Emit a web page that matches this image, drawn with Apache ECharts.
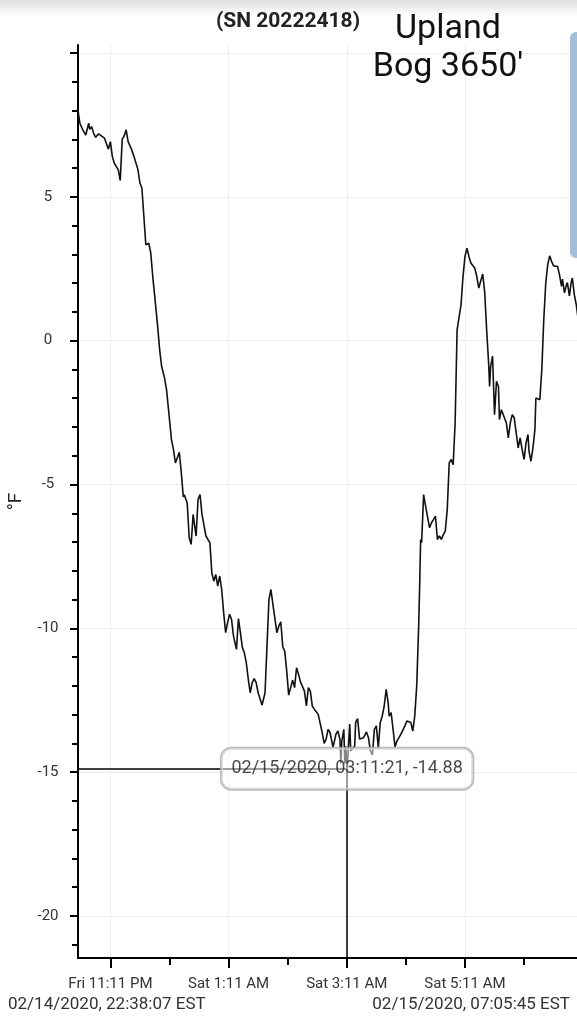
<!DOCTYPE html>
<html><head><meta charset="utf-8">
<script src="https://cdn.jsdelivr.net/npm/echarts@6/dist/echarts.min.js"></script>
<style>html,body{margin:0;padding:0;background:#fff}#c{width:577px;height:1024px}</style>
</head><body><div id="c"></div>
<script>
// ---- data (clock time, °F) ----
const times = [
 '22:38:07','22:40','22:43','22:46','22:49','22:50','22:52','22:54','22:56','22:59',
 '23:01','23:05','23:09','23:11','23:13','23:15','23:17','23:19','23:21','23:23',
 '23:25','23:27','23:29','23:32','23:35','23:39','23:41','23:43','23:45','23:47',
 '23:49','23:50','23:52','23:54','23:56','23:59','00:01','00:03','00:06','00:08',
 '00:11','00:13','00:15','00:17','00:19','00:21','00:23','00:25','00:26','00:29',
 '00:31','00:33','00:35','00:36','00:38','00:40','00:42','00:44','00:46','00:48',
 '00:50','00:52','00:54','00:56','00:58','01:00','01:02','01:04','01:06','01:08',
 '01:10','01:12','01:14','01:16','01:19','01:21','01:23','01:25','01:27','01:29',
 '01:31','01:33','01:35','01:37','01:39','01:41','01:43','01:45','01:47','01:48',
 '01:50','01:52','01:54','01:56','01:58','02:00','02:02','02:04','02:06','02:08',
 '02:10','02:12','02:14','02:16','02:18','02:20','02:22','02:24','02:26','02:28',
 '02:30','02:32','02:34','02:36','02:38','02:40','02:42','02:44','02:46','02:48',
 '02:50','02:52','02:54','02:56','02:57','03:00','03:02','03:04','03:05','03:06',
 '03:08','03:09','03:10','03:11:21','03:14','03:15','03:17','03:19','03:20','03:22',
 '03:24','03:26','03:28','03:31','03:33','03:35','03:37','03:39','03:41','03:43',
 '03:45','03:47','03:49','03:51','03:53','03:54','03:56','03:58','04:00','04:02',
 '04:04','04:06','04:08','04:10','04:12','04:14','04:16','04:18','04:20','04:22',
 '04:24','04:25','04:26','04:27','04:29','04:31','04:33','04:35','04:37','04:39',
 '04:41','04:43','04:45','04:47','04:49','04:51','04:53','04:55','04:57','04:59',
 '05:01','05:03','05:05','05:07','05:09','05:11','05:13','05:15','05:17','05:19',
 '05:21','05:23','05:25','05:27','05:29','05:31','05:33','05:35','05:36','05:37',
 '05:39','05:41','05:43','05:45','05:46','05:48','05:50','05:53','05:55','05:57',
 '05:59','06:01','06:03','06:05','06:07','06:09','06:11','06:13','06:15','06:16',
 '06:18','06:20','06:22','06:23','06:25','06:27','06:29','06:31','06:33','06:35',
 '06:37','06:39','06:41','06:43','06:45','06:47','06:49','06:50','06:52','06:54',
 '06:55','06:57','06:59','07:00','07:02','07:04','07:05:45'
];
const temps = [
 8.02,7.56,7.33,7.15,7.56,7.35,7.44,7.21,7.07,7.19,
 7.16,7.04,6.66,6.92,6.40,6.17,6.17,5.94,5.57,7.00,
 7.12,7.33,6.92,6.69,6.40,5.94,5.48,5.30,4.32,3.33,
 3.27,3.39,3.05,2.23,1.55,0.50,-0.31,-0.89,-1.30,-1.70,
 -2.74,-3.44,-3.78,-4.25,-4.27,-3.88,-4.59,-5.43,-5.36,-5.64,
 -6.85,-7.08,-6.04,-6.10,-6.79,-5.52,-5.35,-6.04,-6.04,-6.79,
 -6.91,-7.02,-8.07,-8.36,-8.13,-8.53,-8.18,-8.65,-9.46,-10.15,
 -9.80,-9.51,-9.69,-10.27,-10.73,-9.66,-10.15,-10.67,-10.85,-11.20,
 -11.77,-12.24,-11.89,-11.75,-11.89,-12.24,-12.24,-12.67,-12.64,-12.24,
 -10.61,-8.99,-8.65,-9.17,-9.11,-10.15,-9.92,-9.77,-10.64,-10.79,
 -11.48,-12.32,-12.38,-11.80,-12.06,-11.37,-11.60,-11.86,-11.89,-12.18,
 -12.70,-12.06,-12.18,-12.70,-12.81,-12.87,-12.99,-13.05,-13.62,-14.00,
 -13.85,-13.51,-13.62,-13.68,-14.14,-13.68,-13.57,-13.85,-14.70,-13.91,
 -13.51,-14.70,-14.10,-14.88,-13.33,-14.26,-14.32,-14.10,-13.27,-13.14,
 -13.85,-13.85,-13.80,-13.60,-13.80,-14.26,-14.40,-13.51,-13.39,-14.14,
 -13.27,-13.05,-12.70,-12.12,-12.58,-13.05,-12.93,-13.51,-14.12,-13.91,
 -13.85,-13.68,-13.62,-13.39,-13.22,-13.16,-13.27,-13.57,-13.05,-12.00,
 -9.92,-8.50,-6.91,-7.02,-5.35,-5.75,-5.75,-6.50,-6.33,-6.22,
 -6.10,-6.91,-6.79,-6.91,-6.74,-6.62,-5.87,-4.25,-4.13,-4.31,
 -2.86,0.38,0.44,1.25,2.23,2.93,3.22,2.93,2.70,2.72,
 2.52,2.23,1.83,1.83,2.32,1.70,0.38,-0.78,-1.59,-0.90,
 -0.54,-2.57,-1.41,-1.59,-2.74,-2.40,-2.34,-2.86,-3.38,-2.86,
 -2.57,-2.68,-2.63,-3.73,-3.38,-3.78,-4.13,-3.55,-3.26,-3.84,
 -4.19,-3.73,-3.09,-1.99,-1.99,-2.05,-1.01,0.73,2.00,2.64,
 2.95,2.75,2.60,2.66,2.58,2.29,1.89,2.14,1.66,1.94,
 2.02,1.56,2.06,2.18,1.60,1.25,0.79
];
const xMinTime = '2020-02-14T22:38:07';
const xMaxTime = '2020-02-15T07:05:45';
const yMin = -21.46, yMax = 10.28;
const yLabelValues = [-20,-15,-10,-5,0,5];
const yMajorTicks = [-20,-15,-10,-5,0,5,10];
const yMinorTicks = [-21,-20,-19,-18,-17,-16,-15,-14,-13,-12,-11,-10,-9,-8,-7,-6,-5,-4,-3,-2,-1,0,1,2,3,4,5,6,7,8,9,10];
const xMajorTickTimes = ['2020-02-14T23:11:00','2020-02-15T01:11:00','2020-02-15T03:11:00','2020-02-15T05:11:00'];
const xMajorTickLabels = ['Fri 11:11 PM','Sat 1:11 AM','Sat 3:11 AM','Sat 5:11 AM'];
const xMinorTickTimes = ['2020-02-15T00:11:00','2020-02-15T02:11:00','2020-02-15T04:11:00','2020-02-15T06:11:00'];
const cursorTime = '2020-02-15T03:11:21';
const cursorValue = -14.88;
const cursorLabel = '02/15/2020, 03:11:21, -14.88';
const serialTitle = '(SN 20222418)';
const siteTitle = "Upland\nBog 3650'";
const startLabel = '02/14/2020, 22:38:07 EST';
const endLabel = '02/15/2020, 07:05:45 EST';
const yName = '°F';

// ---- build ----
const ts = s => new Date(s).getTime();
const fullTime = t => {
  const h = parseInt(t.slice(0,2),10);
  const d = h >= 12 ? '2020-02-14' : '2020-02-15';
  return ts(d + 'T' + (t.length === 5 ? t + ':00' : t));
};
const seriesData = times.map((t,i) => [fullTime(t), temps[i]]);
const xMin = ts(xMinTime), xMax = ts(xMaxTime);
const majorTs = xMajorTickTimes.map(ts);
const minorTs = xMinorTickTimes.map(ts);
const cursorTs = ts(cursorTime);
const FONT = 'Roboto, "Noto Sans", sans-serif';

const chart = echarts.init(document.getElementById('c'), null, {renderer:'canvas'});
chart.setOption({
  animation: false,
  backgroundColor: '#fff',
  grid: {left: 78, right: -1, top: 45, bottom: 66, containLabel: false, outerBoundsMode: 'none'},
  xAxis: [{
    type: 'value', min: xMin, max: xMax, position: 'bottom', scale: true,
    axisLine: {show: true, onZero: false, lineStyle: {color: '#000', width: 2}},
    axisTick: {show: true, length: 10, customValues: majorTs, lineStyle: {color: '#000', width: 2}},
    axisLabel: {show: true, customValues: majorTs, margin: 19, color: '#333', fontSize: 15, fontFamily: FONT,
      hideOverlap: false,
      formatter: v => { let best = 0; majorTs.forEach((m,i)=>{ if (Math.abs(m - v) < Math.abs(majorTs[best] - v)) best = i; }); return xMajorTickLabels[best]; }},
    splitLine: {show: true, lineStyle: {color: '#eeeeee', width: 1}}
  }, {
    type: 'value', min: xMin, max: xMax, position: 'bottom', scale: true,
    axisLine: {show: false, onZero: false},
    axisTick: {show: true, length: 7, customValues: minorTs, lineStyle: {color: '#000', width: 2}},
    axisLabel: {show: false},
    splitLine: {show: false}
  }],
  yAxis: [{
    type: 'value', min: yMin, max: yMax, position: 'left',
    name: yName, nameLocation: 'middle', nameRotate: 90, nameGap: 52,
    nameTextStyle: {fontSize: 19, color: '#222', fontFamily: FONT},
    axisLine: {show: true, onZero: false, lineStyle: {color: '#000', width: 2}},
    axisTick: {show: true, length: 6, customValues: yMinorTicks, lineStyle: {color: '#000', width: 2}},
    axisLabel: {show: true, customValues: yLabelValues, margin: 30, align: 'center', color: '#333', fontSize: 15, fontFamily: FONT,
      formatter: v => String(v)},
    splitLine: {show: false}
  }, {
    type: 'value', min: yMin, max: yMax, position: 'left',
    axisLine: {show: false, onZero: false},
    axisTick: {show: true, length: 8, customValues: yMajorTicks, lineStyle: {color: '#000', width: 2}},
    axisLabel: {show: false},
    splitLine: {show: true, lineStyle: {color: '#eeeeee', width: 1}}
  }],
  series: [{
    type: 'line', data: seriesData, showSymbol: false, symbol: 'none', z: 2,
    lineStyle: {color: '#111', width: 1.6}, emphasis: {disabled: true}, silent: true,
    markLine: {
      silent: true, symbol: ['none','none'], animation: false,
      label: {show: false},
      lineStyle: {color: '#000', width: 1.5, type: 'solid'},
      emphasis: {disabled: true},
      data: [
        [{coord: [xMin, cursorValue]}, {coord: [cursorTs, cursorValue]}],
        [{coord: [cursorTs, cursorValue]}, {coord: [cursorTs, yMin]}]
      ]
    }
  }, {
    type: 'scatter', data: [[cursorTs, cursorValue]], symbolSize: 2, z: 10, silent: true,
    itemStyle: {color: 'rgba(0,0,0,0)'},
    label: {show: true, position: 'inside', formatter: cursorLabel, fontSize: 18, color: '#1a1a1a', fontFamily: FONT,
      backgroundColor: 'rgba(255,255,255,0.62)', borderColor: '#aaaaaa', borderWidth: 1.5, borderRadius: 10,
      padding: [12, 10, 11, 10]},
    labelLayout: {hideOverlap: false},
    emphasis: {disabled: true}
  }],
  graphic: [
    {type: 'rect', left: 0, top: 0, z: 100, shape: {width: 577, height: 16},
      style: {fill: new echarts.graphic.LinearGradient(0,0,0,1,[{offset:0,color:'rgba(0,0,0,0.13)'},{offset:1,color:'rgba(0,0,0,0)'}])}},
    {type: 'rect', x: 570, y: 32, z: 100, shape: {width: 20, height: 226, r: 6}, style: {fill: '#a3bfd9'}},
    {type: 'text', x: 288, y: 22, z: 100, style: {text: serialTitle, align: 'center', verticalAlign: 'middle', font: 'bold 21px ' + FONT, fill: '#222'}},
    {type: 'text', x: 448, y: 48, z: 100, style: {text: siteTitle, align: 'center', verticalAlign: 'middle', font: '34px ' + FONT, lineHeight: 38, fill: '#111'}},
    {type: 'text', x: 8, y: 1005, z: 100, style: {text: startLabel, align: 'left', verticalAlign: 'middle', font: '17px ' + FONT, fill: '#333'}},
    {type: 'text', x: 570, y: 1005, z: 100, style: {text: endLabel, align: 'right', verticalAlign: 'middle', font: '17px ' + FONT, fill: '#333'}}
  ]
});
</script></body></html>
